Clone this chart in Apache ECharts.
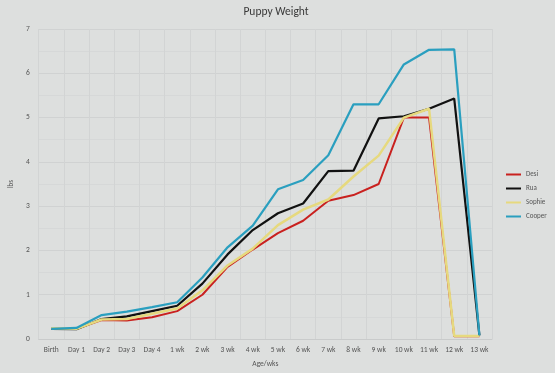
<!DOCTYPE html>
<html><head><meta charset="utf-8">
<script src="https://cdn.jsdelivr.net/npm/echarts@6/dist/echarts.min.js"></script>
<style>html,body{margin:0;padding:0;background:#dcdedd;}#c{width:555px;height:373px;}</style>
</head><body><div id="c"></div>
<script>
const categories = ['Birth','Day 1','Day 2','Day 3','Day 4','1 wk','2 wk','3 wk','4 wk','5 wk','6 wk','7 wk','8 wk','9 wk','10 wk','11 wk','12 wk','13 wk'];
const desi   = [0.23,0.23,0.43,0.42,0.49,0.63,1.00,1.63,2.02,2.39,2.67,3.12,3.25,3.50,5.00,5.00,0.06,0.06];
const rua    = [0.23,0.22,0.45,0.51,0.63,0.75,1.25,1.91,2.46,2.84,3.06,3.79,3.80,4.98,5.03,5.20,5.43,0.08];
const sophie = [0.24,0.23,0.44,0.45,0.57,0.69,1.10,1.66,2.04,2.57,2.92,3.15,3.67,4.14,5.00,5.20,0.07,0.07];
const cooper = [0.23,0.25,0.54,0.62,0.72,0.83,1.39,2.07,2.56,3.38,3.59,4.15,5.30,5.30,6.20,6.53,6.54,0.08];
const yTicks = [0,1,2,3,4,5,6,7];

const chart = echarts.init(document.getElementById('c'), null, {renderer:'canvas'});
const font = 'Calibri, Carlito, "Liberation Sans", "Open Sans", sans-serif';
function mk(name, data, color, w){
  return {name, type:'line', data, symbol:'none', smooth:false,
    lineStyle:{color, width:w}, itemStyle:{color}, emphasis:{disabled:true}};
}
chart.setOption({
  backgroundColor:'#dddfde',
  animation:false,
  title:{text:'Puppy Weight', left:271, textAlign:'center', top:1,
    textStyle:{fontFamily:font, fontSize:11.5, fontWeight:'normal', color:'#3a3a3a'}},
  grid:{left:31, right:63, top:29, bottom:31},
  legend:{orient:'vertical', left:501, top:166, itemWidth:15, itemHeight:2, itemGap:7, icon:'rect',
    textStyle:{fontFamily:font, fontSize:7, color:'#555'},
    data:['Desi','Rua','Sophie','Cooper']},
  xAxis:{type:'category', data:categories, boundaryGap:true,
    name:'Age/wks', nameLocation:'middle', nameGap:21,
    nameTextStyle:{fontFamily:font, fontSize:7.5, color:'#555'},
    axisLine:{show:true, lineStyle:{color:'#c9cbcb'}}, axisTick:{show:false},
    axisLabel:{fontFamily:font, fontSize:7.5, color:'#555', margin:7, interval:0},
    splitLine:{show:true, lineStyle:{color:'#d2d4d4', width:1}}},
  yAxis:{type:'value', min:yTicks[0], max:yTicks[yTicks.length-1], interval:1,
    name:'lbs', nameLocation:'middle', nameGap:21, nameRotate:90,
    nameTextStyle:{fontFamily:font, fontSize:7, color:'#555'},
    axisLine:{show:false}, axisTick:{show:false},
    axisLabel:{fontFamily:font, fontSize:7.5, color:'#555', margin:9},
    splitLine:{show:true, lineStyle:{color:'#d0d2d2', width:1}},
    minorTick:{show:false, splitNumber:2},
    minorSplitLine:{show:true, lineStyle:{color:'#d6d8d8', width:1}}},
  series:[
    mk('Desi', desi, '#c9211f', 2),
    mk('Rua', rua, '#111111', 2.2),
    mk('Sophie', sophie, '#e6d97e', 2.5),
    mk('Cooper', cooper, '#2a9fbf', 2.2)
  ]
});
</script></body></html>
